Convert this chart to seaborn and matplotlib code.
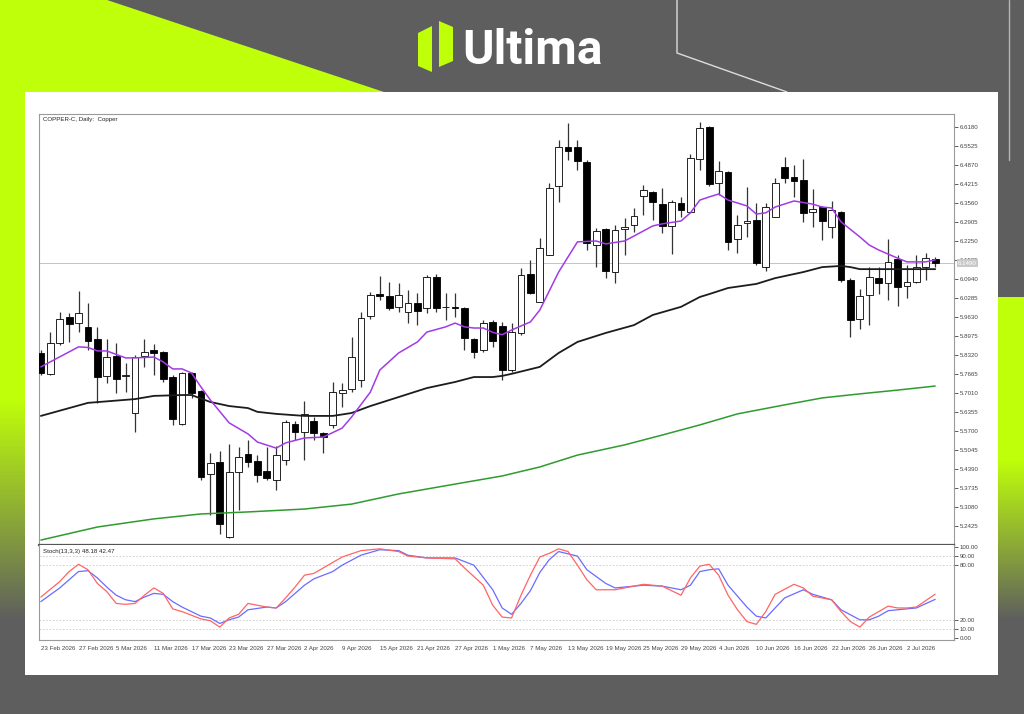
import numpy as np
import pandas as pd
import seaborn as sns
import matplotlib.pyplot as plt
from matplotlib.patches import Polygon, Rectangle

# trading days (Good Friday closed)
days = pd.bdate_range('2026-02-23', '2026-07-07')
days = days[days != pd.Timestamp('2026-04-03')]

open_ = [5.839, 5.767, 5.873, 5.963, 5.942, 5.929, 5.887, 5.760, 5.829, 5.760,
         5.632, 5.829, 5.849, 5.842, 5.756, 5.594, 5.770, 5.708, 5.422, 5.463,
         5.205, 5.429, 5.491, 5.467, 5.432, 5.401, 5.470, 5.594, 5.567, 5.604,
         5.563, 5.591, 5.701, 5.715, 5.746, 5.966, 6.042, 6.035, 5.997, 5.980,
         6.011, 5.994, 6.101, 5.997, 5.997, 5.994, 5.887, 5.849, 5.946, 5.932,
         5.780, 5.908, 6.111, 6.015, 6.177, 6.415, 6.549, 6.549, 6.497, 6.211,
         6.266, 6.118, 6.266, 6.280, 6.380, 6.394, 6.353, 6.277, 6.356, 6.325,
         6.508, 6.618, 6.425, 6.463, 6.232, 6.287, 6.297, 6.135, 6.308, 6.480,
         6.446, 6.435, 6.325, 6.342, 6.273, 6.325, 6.091, 5.956, 6.039, 6.097,
         6.080, 6.163, 6.070, 6.084, 6.135, 6.163]
high = [5.849, 5.911, 5.980, 5.977, 6.053, 6.011, 5.929, 5.887, 5.873, 5.804,
        5.832, 5.887, 5.870, 5.846, 5.763, 5.773, 5.773, 5.711, 5.494, 5.501,
        5.525, 5.515, 5.539, 5.487, 5.515, 5.518, 5.608, 5.604, 5.673, 5.618,
        5.567, 5.739, 5.735, 5.894, 5.980, 6.049, 6.104, 6.084, 6.080, 6.056,
        6.046, 6.108, 6.111, 6.046, 6.046, 5.997, 5.891, 5.953, 5.953, 5.946,
        5.942, 6.132, 6.160, 6.235, 6.425, 6.573, 6.632, 6.573, 6.504, 6.270,
        6.270, 6.280, 6.304, 6.339, 6.418, 6.397, 6.408, 6.366, 6.377, 6.525,
        6.635, 6.621, 6.501, 6.466, 6.315, 6.411, 6.356, 6.356, 6.442, 6.515,
        6.487, 6.508, 6.404, 6.346, 6.363, 6.328, 6.097, 6.060, 6.135, 6.135,
        6.232, 6.177, 6.142, 6.177, 6.184, 6.170]
low = [5.763, 5.763, 5.866, 5.877, 5.911, 5.849, 5.667, 5.735, 5.701, 5.704,
       5.567, 5.791, 5.763, 5.739, 5.591, 5.591, 5.684, 5.401, 5.280, 5.215,
       5.201, 5.298, 5.446, 5.394, 5.401, 5.367, 5.453, 5.539, 5.470, 5.539,
       5.494, 5.580, 5.653, 5.704, 5.722, 5.956, 6.022, 5.987, 5.980, 5.942,
       5.935, 5.977, 5.980, 5.953, 5.963, 5.849, 5.822, 5.842, 5.860, 5.746,
       5.773, 5.901, 6.042, 6.015, 6.177, 6.359, 6.504, 6.470, 6.194, 6.135,
       6.097, 6.080, 6.177, 6.256, 6.315, 6.297, 6.253, 6.180, 6.308, 6.322,
       6.470, 6.415, 6.384, 6.194, 6.184, 6.239, 6.142, 6.122, 6.308, 6.425,
       6.377, 6.291, 6.273, 6.228, 6.235, 6.084, 5.894, 5.922, 5.935, 6.042,
       6.022, 6.001, 6.029, 6.080, 6.091, 6.135]
close = [5.770, 5.873, 5.956, 5.939, 5.977, 5.880, 5.756, 5.825, 5.749, 5.763,
         5.825, 5.842, 5.839, 5.749, 5.611, 5.770, 5.701, 5.411, 5.460, 5.249,
         5.429, 5.480, 5.463, 5.418, 5.408, 5.487, 5.601, 5.567, 5.629, 5.563,
         5.549, 5.704, 5.711, 5.825, 5.960, 6.039, 6.035, 5.994, 6.039, 6.011,
         5.984, 6.101, 5.994, 5.996, 5.994, 5.891, 5.842, 5.942, 5.880, 5.780,
         5.911, 6.108, 6.046, 6.201, 6.408, 6.549, 6.535, 6.501, 6.218, 6.260,
         6.122, 6.263, 6.273, 6.311, 6.401, 6.359, 6.277, 6.359, 6.332, 6.511,
         6.615, 6.422, 6.466, 6.222, 6.280, 6.294, 6.149, 6.342, 6.425, 6.442,
         6.432, 6.322, 6.335, 6.294, 6.332, 6.091, 5.953, 6.035, 6.101, 6.080,
         6.153, 6.066, 6.084, 6.135, 6.166, 6.149]

# moving averages (bar index, price)
ma_fast_bar = [0, 4, 5, 6, 7, 9, 10, 12, 13, 14, 15, 16, 17, 18, 20, 22, 23, 25, 26, 28,
               30, 32, 33, 35, 36, 38, 40, 41, 43, 44, 45, 46, 47, 48, 49, 50, 51, 52, 53, 55,
               57, 59, 60, 62, 63, 65, 66, 68, 69, 70, 71, 72, 73, 75, 76, 77, 78, 80, 82, 83,
               84, 85, 87, 88, 89, 91, 92, 94, 95]
ma_fast = [5.791, 5.860, 5.858, 5.846, 5.846, 5.822, 5.822, 5.825, 5.808, 5.784,
           5.784, 5.770, 5.722, 5.677, 5.598, 5.560, 5.532, 5.511, 5.529, 5.546,
           5.549, 5.580, 5.618, 5.704, 5.780, 5.839, 5.877, 5.911, 5.929, 5.942,
           5.929, 5.925, 5.925, 5.910, 5.902, 5.918, 5.932, 5.946, 5.987, 6.118,
           6.222, 6.225, 6.215, 6.225, 6.242, 6.277, 6.284, 6.294, 6.322, 6.366,
           6.377, 6.387, 6.366, 6.346, 6.318, 6.322, 6.342, 6.363, 6.352, 6.342,
           6.339, 6.291, 6.239, 6.211, 6.194, 6.166, 6.153, 6.153, 6.160]
ma_mid_bar = [0, 5, 10, 12, 15, 16, 18, 20, 22, 23, 25, 28, 31, 33, 35, 38, 41, 44, 46, 48,
              49, 50, 53, 55, 57, 60, 63, 65, 68, 70, 71, 73, 76, 78, 81, 83, 85, 86, 87, 90,
              92, 95]
ma_mid = [5.622, 5.667, 5.680, 5.691, 5.694, 5.694, 5.670, 5.656, 5.649, 5.636,
          5.629, 5.622, 5.622, 5.632, 5.656, 5.687, 5.718, 5.739, 5.756, 5.756,
          5.760, 5.767, 5.791, 5.839, 5.877, 5.908, 5.935, 5.970, 5.998, 6.032,
          6.042, 6.063, 6.077, 6.097, 6.118, 6.135, 6.139, 6.135, 6.128, 6.128,
          6.128, 6.128]
ma_slow_bar = [0, 6, 12, 17, 22, 28, 33, 38, 44, 49, 53, 57, 62, 66, 70, 74, 79, 83, 87, 91, 95]
ma_slow = [5.194, 5.239, 5.267, 5.284, 5.291, 5.301, 5.318, 5.353, 5.387, 5.415, 5.446,
           5.487, 5.522, 5.556, 5.591, 5.629, 5.660, 5.684, 5.698, 5.711, 5.725]

# stochastic (13,3,3)
k_bar = [0, 2, 3, 4, 5, 6, 7, 8, 9, 10, 11, 12, 13, 14, 15, 17, 18, 19, 20, 21,
         22, 24, 25, 26, 27, 28, 29, 30, 32, 34, 36, 38, 39, 41, 44, 45, 47, 48, 49, 50,
         51, 52, 53, 54, 55, 56, 57, 58, 59, 61, 63, 64, 66, 68, 69, 70, 71, 72, 73, 74,
         75, 76, 77, 78, 80, 81, 82, 83, 84, 85, 86, 87, 88, 89, 90, 91, 92, 93, 95]
k_val = [45, 62, 73, 81, 75, 60, 51, 38, 37, 38, 47, 55, 49, 32, 29, 21, 19, 12, 22, 26,
         38, 34, 33, 44, 56, 69, 71, 77, 89, 96, 98, 95, 90, 88, 87, 77, 58, 36, 23, 22,
         47, 69, 89, 93, 98, 95, 80, 64, 53, 53, 57, 59, 57, 47, 66, 79, 81, 69, 47, 31,
         18, 15, 29, 48, 59, 55, 46, 44, 42, 29, 18, 12, 23, 29, 35, 33, 33, 34, 48.18]
d_bar = [0, 2, 3, 4, 5, 6, 7, 8, 9, 10, 11, 12, 13, 14, 15, 17, 18, 19, 20, 21,
         22, 24, 25, 26, 28, 29, 31, 32, 34, 36, 38, 39, 41, 44, 46, 48, 49, 50, 51, 52,
         53, 54, 55, 57, 58, 60, 61, 64, 66, 68, 69, 70, 71, 72, 73, 75, 76, 77, 79, 81,
         82, 84, 85, 87, 88, 89, 90, 92, 93, 95]
d_val = [40, 55, 64, 73, 74, 66, 56, 47, 42, 40, 45, 49, 48, 40, 34, 24, 22, 16, 20, 23,
         31, 34, 33, 40, 58, 65, 73, 80, 91, 97, 96, 91, 88, 88, 80, 53, 33, 26, 38, 52,
         72, 86, 95, 90, 75, 60, 55, 58, 57, 53, 58, 73, 75, 76, 58, 34, 24, 22, 44, 53,
         48, 42, 31, 20, 20, 24, 30, 32, 33, 42.47]

price_ticks = [5.2425, 5.3080, 5.3735, 5.4390, 5.5045, 5.5700, 5.6355, 5.7010, 5.7665,
               5.8320, 5.8975, 5.9630, 6.0285, 6.0940, 6.1595, 6.2250, 6.2905, 6.3560,
               6.4215, 6.4870, 6.5525, 6.6180]
stoch_ticks = [0, 10, 20, 80, 90, 100]
stoch_levels = [10, 20, 80, 90]

df = pd.DataFrame({'date': days[:len(close)], 'open': open_, 'high': high,
                   'low': low, 'close': close})
df['bar'] = np.arange(len(df))
up = df['close'] >= df['open']

sns.set_style('white')
plt.rcParams['font.family'] = ['Liberation Sans', 'DejaVu Sans']
FS = 4.4

W, H = 1024, 714
fig = plt.figure(figsize=(W / 100, H / 100), dpi=100, facecolor='#5e5e5e')

# ---- branded background ----
bg = fig.add_axes([0, 0, 1, 1], zorder=-5)
bg.set_xlim(0, W)
bg.set_ylim(H, 0)
bg.axis('off')
lime = np.array([0.75, 1.0, 0.04])
rows = np.arange(H)


def strip(x0, x1, stops, alphas):
    a = np.interp(rows, stops, alphas)
    img = np.zeros((H, 1, 4))
    img[:, 0, :3] = lime
    img[:, 0, 3] = a
    bg.imshow(img, extent=[x0, x1, H, 0], aspect='auto', zorder=1)


strip(0, 26, [0, 400, 620, H], [1, 1, 0, 0])
strip(998, W, [0, 296, 297, 460, 620, H], [0, 0, 1, 1, 0, 0])
bg.add_patch(Polygon([(0, 0), (107, 0), (384, 92), (0, 92)], closed=True,
                     facecolor='#bfff0a', lw=0, zorder=2))
bg.plot([677, 677, 787], [0, 53, 92], color='#dcdcdc', lw=1, zorder=2)
bg.plot([1009, 1009], [0, 160], color='#b5b5b5', lw=1, zorder=2)
bg.add_patch(Rectangle((25, 92), 973, 583, facecolor='white', lw=0, zorder=3))
# logo
bg.add_patch(Polygon([(418, 33), (432, 26), (432, 72), (418, 66)], closed=True,
                     facecolor='#bfff0a', lw=0, zorder=4))
bg.add_patch(Polygon([(439, 21), (453, 27), (453, 61), (439, 67)], closed=True,
                     facecolor='#bfff0a', lw=0, zorder=4))
fig.text(462 / W, 1 - 64 / H, 'Ultima', color='white', fontsize=34.5,
         fontweight='bold', family='Roboto', va='baseline', ha='left')

# ---- price panel ----
left, right = 39 / W, 954 / W
ax = fig.add_axes([left, 1 - 545 / H, right - left, 431 / H])
sx = fig.add_axes([left, 1 - 640 / H, right - left, 95 / H])

body_lo = np.minimum(df['open'], df['close'])
body_h = (df['open'] - df['close']).abs().clip(lower=0.002)
ax.vlines(df['bar'], df['low'], df['high'], color='#333333', lw=0.9, zorder=2)
ax.bar(df['bar'], body_h, bottom=body_lo, width=0.72,
       color=np.where(up, 'white', 'black'), edgecolor='black', linewidth=0.6, zorder=3)

sns.lineplot(x=ma_slow_bar, y=ma_slow, ax=ax, color='#2f9b2f', lw=1.1, estimator=None, zorder=4)
sns.lineplot(x=ma_mid_bar, y=ma_mid, ax=ax, color='#1c1c1c', lw=1.3, estimator=None, zorder=4)
sns.lineplot(x=ma_fast_bar, y=ma_fast, ax=ax, color='#a23be6', lw=1.1, estimator=None, zorder=4)

last = close[-1]
ax.axhline(last, color='#c4c4c4', lw=0.7, zorder=1)

ax.set_xlim(-0.2, 97)
ax.set_ylim(5.1770, 6.6628)
ax.set_xticks([])
ax.yaxis.tick_right()
ax.set_yticks(price_ticks)
ax.set_yticklabels([f'{t:.4f}' for t in price_ticks])
ax.tick_params(axis='y', labelsize=FS, colors='#444444', length=3, width=0.6, pad=1)
for s in ['left', 'top', 'right']:
    ax.spines[s].set_color('#9a9a9a')
    ax.spines[s].set_linewidth(0.8)
ax.spines['bottom'].set_color('#555555')
ax.spines['bottom'].set_linewidth(1.6)
ax.set_xlabel('')
ax.set_ylabel('')
ax.text(0.004, 0.993, 'COPPER-C, Daily:  Copper', transform=ax.transAxes,
        fontsize=FS, va='top', ha='left', color='#222222')
ax.text(1.004, last, f'{last:.4f}', transform=ax.get_yaxis_transform(), fontsize=FS,
        color='white', va='center', ha='left',
        bbox=dict(facecolor='#c9c9c9', edgecolor='none', pad=0.8))

# ---- stochastic panel ----
for lv in stoch_levels:
    sx.axhline(lv, color='#c8c8c8', lw=0.6, ls=(0, (2, 2)), zorder=1)
sns.lineplot(x=d_bar, y=d_val, ax=sx, color='#6b6bff', lw=0.9, estimator=None, zorder=3)
sns.lineplot(x=k_bar, y=k_val, ax=sx, color='#ff6464', lw=0.9, estimator=None, zorder=3)
sx.set_xlim(-0.2, 97)
sx.set_ylim(-2.2, 102.2)
sx.yaxis.tick_right()
sx.set_yticks(stoch_ticks)
sx.set_yticklabels([f'{t:.2f}' for t in stoch_ticks])
tick_bars = list(range(0, 93, 4))
sx.set_xticks(tick_bars)
sx.set_xticklabels([f"{d.day} {d.strftime('%b %Y')}" for d in df['date'].iloc[tick_bars]])
sx.tick_params(axis='both', labelsize=FS, colors='#444444', length=3, width=0.6, pad=1)
for lab in sx.get_xticklabels():
    lab.set_horizontalalignment('left')
sx.spines['top'].set_visible(False)
for s in ['left', 'bottom', 'right']:
    sx.spines[s].set_color('#9a9a9a')
    sx.spines[s].set_linewidth(0.8)
sx.set_xlabel('')
sx.set_ylabel('')
sx.text(0.004, 0.96, 'Stoch(13,3,3) 48.18 42.47', transform=sx.transAxes,
        fontsize=FS, va='top', ha='left', color='#222222')

fig.savefig('out.png', dpi=100, facecolor=fig.get_facecolor())
